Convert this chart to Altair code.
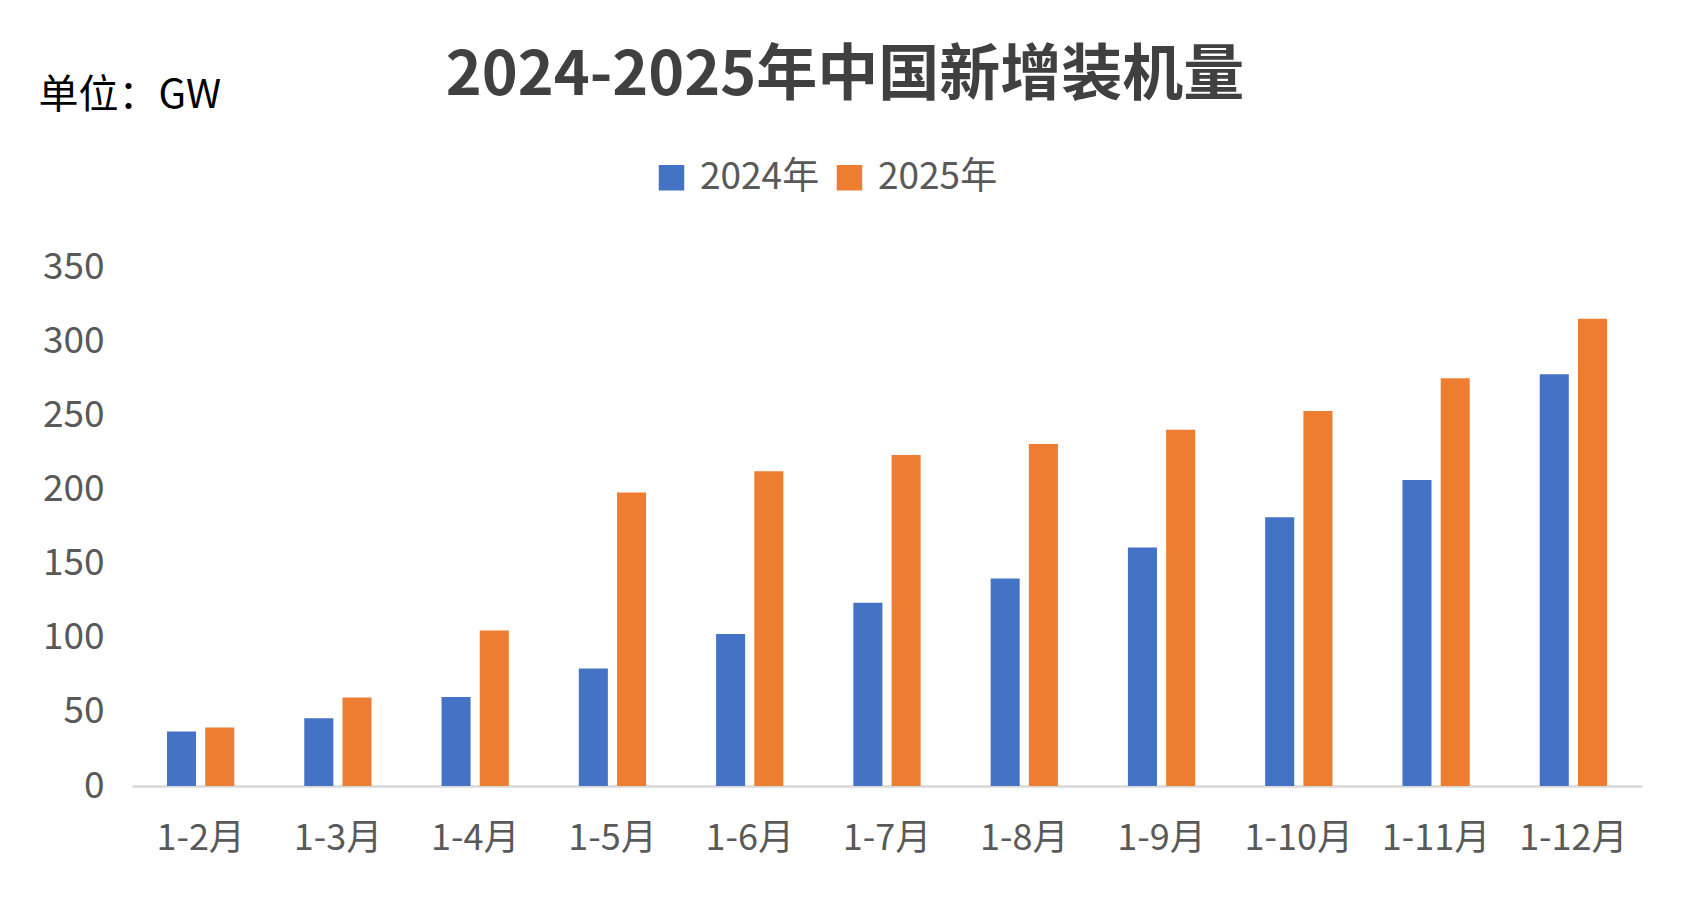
import altair as alt
import pandas as pd

months = ["1-2月", "1-3月", "1-4月", "1-5月", "1-6月", "1-7月", "1-8月",
          "1-9月", "1-10月", "1-11月", "1-12月"]
years = ["2024年", "2025年"]
v2024 = [36.7, 45.7, 60.1, 79.2, 102.5, 123.5, 140.0, 160.9, 181.3, 206.3, 277.6]
v2025 = [39.5, 59.7, 104.9, 197.9, 212.2, 223.3, 230.6, 240.3, 252.9, 274.9, 315.1]
colors = ["#4472C4", "#ED7D31"]
y_ticks = [0, 50, 100, 150, 200, 250, 300, 350]

rows = []
for m, a, b in zip(months, v2024, v2025):
    rows.append({"月份": m, "年份": years[0], "值": a})
    rows.append({"月份": m, "年份": years[1], "值": b})
df = pd.DataFrame(rows)

FONT = "Noto Sans CJK SC"

chart = alt.Chart(df).mark_bar().encode(
    x=alt.X(
        "月份:N", sort=months,
        scale=alt.Scale(paddingInner=0.51, paddingOuter=0.255),
        axis=alt.Axis(title=None, labelAngle=0, labelFontSize=36, labelColor="#595959",
                      labelFont=FONT, labelPadding=35, ticks=False,
                      domainColor="#d9d9d9", domainWidth=2.5),
    ),
    xOffset=alt.XOffset("年份:N", sort=years, scale=alt.Scale(paddingInner=0.24)),
    y=alt.Y(
        "值:Q", scale=alt.Scale(domain=[0, 350]),
        axis=alt.Axis(values=y_ticks, title="单位：GW", titleAngle=0, titleX=-94, titleY=-172,
                      titleAlign="left", titleBaseline="middle", titleFontSize=40,
                      titleFontWeight="normal", titleColor="#000000", titleFont=FONT,
                      labelFontSize=37, labelColor="#595959", labelFont=FONT,
                      labelPadding=28, ticks=False, domain=False, grid=False),
    ),
    color=alt.Color(
        "年份:N", sort=years,
        scale=alt.Scale(domain=years, range=colors),
        legend=alt.Legend(title=None, orient="none", legendX=521, legendY=-108,
                          direction="horizontal", symbolType="square", symbolSize=650,
                          symbolStrokeWidth=0, labelFontSize=37, labelColor="#595959",
                          labelFont=FONT, columnPadding=11, labelOffset=10),
    ),
).properties(
    width=1510,
    height=519,
    title=alt.Title("2024-2025年中国新增装机量", fontSize=61, font=FONT, fontWeight="bold",
                    color="#404040", anchor="middle", frame="group", dx=-42, dy=43, offset=10),
    autosize="none",
    padding={"left": 124, "top": 259, "right": 30, "bottom": 100},
).configure_view(stroke=None)

chart.save("out.html", embed_options={"renderer": "svg", "actions": False})
